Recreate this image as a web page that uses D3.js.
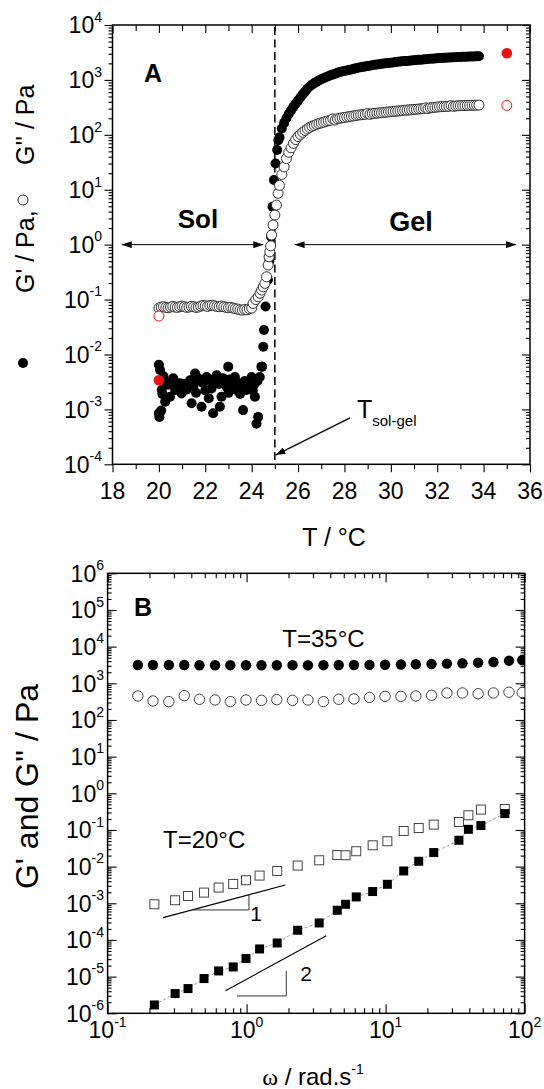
<!DOCTYPE html>
<html>
<head>
<meta charset="utf-8">
<script src="https://cdn.jsdelivr.net/npm/d3@7/dist/d3.min.js"></script>
<style>
html,body{margin:0;padding:0;background:#fff;}
svg text{font-family:"Liberation Sans",Arial,Helvetica,sans-serif;fill:#000;}
</style>
</head>
<body>
<svg id="chart" width="544" height="1089"></svg>
<script>
// ================= Panel A data (T / °C, modulus / Pa) =================
const tempSolStorage = [20.0,20.05,20.12,20.0,20.02,20.1,20.15,20.2,20.27,20.34,20.4,20.48,20.55,20.62,20.7,20.8,20.91,20.98,21.1,21.2,21.34,21.41,21.5,21.56,21.6,21.7,21.8,21.84,21.91,22.0,22.06,22.15,22.2,22.27,22.34,22.4,22.49,22.56,22.6,22.63,22.7,22.77,22.85,22.92,22.99,23.0,23.05,23.13,23.2,23.28,23.35,23.42,23.5,23.57,23.63,23.7,23.78,23.85,24.0,24.05,24.1,24.14,24.21,24.25,24.28,24.35,24.42,
  24.45,24.5,24.53,24.6,24.7,24.76,24.84,24.9,24.96,25.03,25.1,25.15];
const gStorageSol = [6.5e-3,5.2e-3,2.25e-3,8.5e-4,7.3e-4,9.5e-4,1.9e-3,4.0e-3,1.38e-3,3.0e-3,2.8e-3,1.7e-3,3.2e-3,3.7e-3,2.25e-3,2.6e-3,3.0e-3,1.95e-3,2.9e-3,2.3e-3,3.4e-3,1.29e-3,2.7e-3,4.5e-3,2.0e-3,3.7e-3,3.3e-3,1.12e-3,3.0e-3,2.2e-3,3.9e-3,1.6e-3,3.4e-3,2.4e-3,8.5e-4,3.6e-3,4.2e-3,3.0e-3,2.9e-3,1.12e-3,1.7e-3,3.7e-3,3.1e-3,2.6e-3,6.0e-3,2.0e-3,3.5e-3,3.2e-3,2.4e-3,3.9e-3,2.25e-3,3.0e-3,1.9e-3,2.6e-3,9.7e-4,3.3e-3,2.25e-3,2.9e-3,3.9e-3,2.2e-3,2.8e-3,1.7e-3,5.5e-4,3.3e-3,7.3e-4,3.9e-3,6.0e-3,
  6.0e-3,0.0138,0.028,0.075,0.23,0.5,1.4,4.9,15,30,53,80];

const tempSolLoss = [20.0,20.1,20.2,20.3,20.4,20.5,20.6,20.7,20.8,20.9,21.0,21.1,21.2,21.3,21.4,21.5,21.6,21.7,21.8,21.9,22.0,22.1,22.2,22.3,22.4,22.5,22.6,22.7,22.8,22.9,23.0,23.1,23.2,23.3,23.4,23.5,23.6,23.7,23.8,23.9,24.0,
  24.06,24.18,24.28,24.36,24.43,24.5,24.57,24.64,24.71,24.75,24.78,24.82,24.86,24.92,25.0,25.07,25.14];
const gLossSol = [0.070,0.073,0.074,0.072,0.071,0.073,0.075,0.073,0.072,0.074,0.076,0.074,0.072,0.073,0.075,0.074,0.072,0.073,0.076,0.078,0.077,0.075,0.078,0.079,0.077,0.075,0.074,0.076,0.074,0.072,0.071,0.072,0.070,0.068,0.067,0.065,0.064,0.066,0.065,0.068,0.070,
  0.085,0.100,0.112,0.130,0.149,0.170,0.197,0.26,0.425,0.60,0.74,0.95,1.5,2.28,3.46,5.26,8.6];

const tempGel = [25.2,25.3,25.4,25.5,25.6,25.7,25.8,25.9,26.0,26.1,26.2,26.3,26.4,26.5,26.6,26.7,26.8,26.9,27.0,27.1,27.2,27.3,27.4,27.5,27.6,27.7,27.8,27.9,28.0,28.1,28.2,28.3,28.4,28.5,28.6,28.7,28.8,28.9,29.0,29.1,29.2,29.3,29.4,29.5,29.6,29.7,29.8,29.9,30.0,30.1,30.2,30.3,30.4,30.5,30.6,30.7,30.8,30.9,31.0,31.1,31.2,31.3,31.4,31.5,31.6,31.7,31.8,31.9,32.0,32.1,32.2,32.3,32.4,32.5,32.6,32.7,32.8,32.9,33.0,33.1,33.2,33.3,33.4,33.5,33.6,33.7,33.8];
const gStorageGel = [90,130,165,200,240,280,325,370,420,480,545,610,690,760,820,875,925,980,1030,1075,1120,1165,1210,1260,1300,1350,1400,1430,1460,1490,1520,1555,1590,1625,1660,1695,1730,1760,1790,1820,1850,1880,1910,1935,1960,1985,2010,2035,2060,2085,2110,2135,2160,2180,2200,2220,2240,2260,2280,2300,2320,2340,2360,2380,2400,2420,2440,2460,2480,2500,2510,2520,2540,2550,2570,2580,2600,2610,2620,2630,2640,2650,2660,2670,2680,2690,2700];
const gLossGel = [12,19,26,37,48,58,70,82,93,102,111,120,128,136,143,149,155,160,165,170,175,180,184,195,186,196,200,204,207,211,214,218,221,225,229,231,234,236,245,236,243,246,248,251,253,256,258,261,264,266,269,271,274,277,280,282,285,287,290,292,295,298,301,310,300,311,314,317,321,324,326,327,329,331,340,330,336,338,339,340,341,343,344,345,346,347,348];

const tempRed = [20, 35];
const gStorageRed = [3.4e-3, 3060];
const gLossRed = [0.050, 344];

const xTicksA = [18,20,22,24,26,28,30,32,34,36];
const xMinorA = [19,21,23,25,27,29,31,33,35];
const yTicksA = [1e-4,1e-3,1e-2,1e-1,1,10,100,1000,10000];
const yExpA = ["-4","-3","-2","-1","0","1","2","3","4"];

const tSolGel = 25;
const solArrowT = [18.4, 24.5];
const gelArrowT = [25.85, 35.4];
const arrowLevel = 1;
const tsgArrow = [[28.24, 7.0e-4], [25.03, 1.47e-4]];

// ================= Panel B data (omega / rad s-1, modulus / Pa) =================
const omegaHot = [0.165,0.212,0.276,0.356,0.458,0.593,0.764,0.99,1.28,1.65,2.14,2.76,3.57,4.60,5.92,7.66,9.91,12.9,16.5,21.4,27.6,35.7,46.3,59.7,77.2,96.1];
const gStorageHot = [3150,3150,3160,3160,3100,3100,3120,3100,3100,3100,3120,3100,3120,3150,3150,3180,3200,3250,3300,3370,3450,3510,3650,3810,4140,4300];
const gLossHot = [451,330,316,460,366,351,316,351,343,358,343,351,316,366,374,412,440,440,451,472,545,545,520,545,571,560];

const omegaCold = [0.217,0.306,0.379,0.494,0.629,0.801,0.99,1.24,1.66,2.33,3.33,4.49,5.15,6.15,8.07,10.3,13.5,17.3,22.2,33.7,39.4,48.5,72.1];
const gLossCold = [9.4e-4,1.21e-3,1.58e-3,1.96e-3,2.69e-3,3.37e-3,4.25e-3,5.70e-3,7.62e-3,1.07e-2,1.49e-2,2.08e-2,2.04e-2,2.63e-2,3.82e-2,4.92e-2,9.38e-2,0.113,0.140,0.165,0.252,0.36,0.373];
const gStorageCold = [1.69e-6,3.45e-6,4.72e-6,8.85e-6,1.43e-5,1.84e-5,3.11e-5,5.69e-5,8.28e-5,1.84e-4,2.91e-4,6.46e-4,9.4e-4,1.49e-3,2.09e-3,3.30e-3,7.62e-3,1.40e-2,2.42e-2,5.24e-2,0.104,0.132,0.28];

const slope1 = [[0.251,4.06e-4],[1.90,3.16e-3]];
const tri1 = [[0.409,6.6e-4],[1.04,6.6e-4],[1.04,1.75e-3]];
const slope2 = [[0.705,4.14e-6],[3.74,1.31e-4]];
const tri2 = [[0.853,2.97e-6],[1.93,2.97e-6],[1.93,1.43e-5]];

const xTicksB = [0.1,1,10,100];
const xExpB = ["-1","0","1","2"];
const yTicksB = [1e-6,1e-5,1e-4,1e-3,1e-2,1e-1,1,10,100,1e3,1e4,1e5,1e6];
const yExpB = ["-6","-5","-4","-3","-2","-1","0","1","2","3","4","5","6"];

// ================= drawing =================
const svg = d3.select("#chart");
const defs = svg.append("defs");
defs.append("marker").attr("id","ah").attr("viewBox","0 0 10 7")
  .attr("refX",10).attr("refY",3.5).attr("markerWidth",10).attr("markerHeight",7)
  .attr("markerUnits","userSpaceOnUse").attr("orient","auto-start-reverse")
  .append("path").attr("d","M0,0L10,3.5L0,7z").attr("fill","#000");

function logMinor(lo, hi){ const out=[]; for(let e=lo;e<hi;e++){ for(let k=2;k<=9;k++) out.push(k*Math.pow(10,e)); } return out; }

function tickSet(axisGen, values, size, tx, ty){
  svg.append("g").attr("transform",`translate(${tx},${ty})`)
    .call(axisGen.tickValues(values).tickSize(size).tickFormat(""))
    .call(g=>g.select(".domain").remove())
    .call(g=>g.selectAll(".tick line").attr("stroke","#000").attr("stroke-width",1.1));
}
function frame(P, id){
  defs.append("clipPath").attr("id",id).append("rect")
    .attr("x",P.l).attr("y",P.t).attr("width",P.r-P.l).attr("height",P.b-P.t);
}

// ---------- Panel A ----------
const A = {l:112.5, r:530, t:25, b:464.3};
const xA = d3.scaleLinear().domain([18,36]).range([A.l,A.r]);
const yA = d3.scaleLog().domain([1e-4,1e4]).range([A.b,A.t]);
frame(A,"clipA");

tickSet(d3.axisBottom(xA), xTicksA, 8, 0, A.b);
tickSet(d3.axisBottom(xA), xMinorA, 5, 0, A.b);
tickSet(d3.axisTop(xA), xTicksA, -8, 0, A.t);
tickSet(d3.axisTop(xA), xMinorA, -6, 0, A.t);
tickSet(d3.axisLeft(yA), yTicksA, 8, A.l, 0);
tickSet(d3.axisLeft(yA), logMinor(-4,4), 4, A.l, 0);
tickSet(d3.axisRight(yA), yTicksA, -8, A.r, 0);
tickSet(d3.axisRight(yA), logMinor(-4,4), -4, A.r, 0);

svg.append("rect").attr("x",A.l).attr("y",A.t).attr("width",A.r-A.l).attr("height",A.b-A.t)
  .attr("fill","none").attr("stroke","#000").attr("stroke-width",1.5);

// tick labels A
svg.append("g").selectAll("text").data(xTicksA).join("text")
  .attr("x",d=>xA(d)).attr("y",499).attr("text-anchor","middle").attr("font-size",23).text(d=>d);
const ylabA = svg.append("g").selectAll("text").data(yTicksA).join("text")
  .attr("x",102).attr("y",d=>yA(d)+8.3).attr("text-anchor","end").attr("font-size",23);
ylabA.append("tspan").text("10");
ylabA.append("tspan").attr("dy",-11.5).attr("font-size",14).text((d,i)=>yExpA[i]);

// dashed transition line
svg.append("line").attr("x1",xA(tSolGel)).attr("x2",xA(tSolGel)).attr("y1",A.t+2).attr("y2",A.b)
  .attr("stroke","#000").attr("stroke-width",1.5).attr("stroke-dasharray","8,4.5");

const pA = svg.append("g").attr("clip-path","url(#clipA)");
const R = 5;
pA.selectAll(".fs").data(d3.zip(tempSolStorage,gStorageSol)).join("circle")
  .attr("cx",d=>xA(d[0])).attr("cy",d=>yA(d[1])).attr("r",R).attr("fill","#000");
pA.selectAll(".fg").data(d3.zip(tempGel,gStorageGel)).join("circle")
  .attr("cx",d=>xA(d[0])).attr("cy",d=>yA(d[1])).attr("r",R).attr("fill","#000");
pA.selectAll(".os").data(d3.zip(tempSolLoss,gLossSol)).join("circle")
  .attr("cx",d=>xA(d[0])).attr("cy",d=>yA(d[1])).attr("r",R).attr("fill","#fff").attr("stroke","#333").attr("stroke-width",1);
pA.selectAll(".og").data(d3.zip(tempGel,gLossGel)).join("circle")
  .attr("cx",d=>xA(d[0])).attr("cy",d=>yA(d[1])).attr("r",R).attr("fill","#fff").attr("stroke","#333").attr("stroke-width",1);
pA.selectAll(".rs").data(d3.zip(tempRed,gStorageRed)).join("circle")
  .attr("cx",d=>xA(d[0])).attr("cy",d=>yA(d[1])).attr("r",R+0.3).attr("fill","#ee1111");
pA.selectAll(".rl").data(d3.zip(tempRed,gLossRed)).join("circle")
  .attr("cx",d=>xA(d[0])).attr("cy",d=>yA(d[1])).attr("r",R).attr("fill","#fff").attr("stroke","#ee1111").attr("stroke-width",1);

// arrows
svg.append("line").attr("x1",xA(solArrowT[0])).attr("x2",xA(solArrowT[1])).attr("y1",yA(arrowLevel)).attr("y2",yA(arrowLevel))
  .attr("stroke","#000").attr("stroke-width",1).attr("marker-start","url(#ah)").attr("marker-end","url(#ah)");
svg.append("line").attr("x1",xA(gelArrowT[0])).attr("x2",xA(gelArrowT[1])).attr("y1",yA(arrowLevel)).attr("y2",yA(arrowLevel))
  .attr("stroke","#000").attr("stroke-width",1).attr("marker-start","url(#ah)").attr("marker-end","url(#ah)");
svg.append("line").attr("x1",xA(tsgArrow[0][0])).attr("y1",yA(tsgArrow[0][1]))
  .attr("x2",xA(tsgArrow[1][0])).attr("y2",yA(tsgArrow[1][1]))
  .attr("stroke","#000").attr("stroke-width",1.2).attr("marker-end","url(#ah)");

// texts A
svg.append("text").attr("x",144).attr("y",82).attr("font-size",25).attr("font-weight","bold").text("A");
svg.append("text").attr("x",198).attr("y",228).attr("text-anchor","middle").attr("font-size",26).attr("font-weight","bold").text("Sol");
svg.append("text").attr("x",411).attr("y",231).attr("text-anchor","middle").attr("font-size",27).attr("font-weight","bold").text("Gel");
const tsg = svg.append("text").attr("x",357).attr("y",418).attr("font-size",25);
tsg.append("tspan").text("T");
tsg.append("tspan").attr("dy",8).attr("font-size",15).text("sol-gel");
svg.append("text").attr("x",334).attr("y",546).attr("text-anchor","middle").attr("font-size",25).text("T / °C");

// y label A with symbols
svg.append("text").attr("transform","translate(34,293) rotate(-90)").attr("font-size",25).text("G' / Pa,");
svg.append("text").attr("transform","translate(34,165) rotate(-90)").attr("font-size",25).text("G'' / Pa");
svg.append("circle").attr("cx",23).attr("cy",200).attr("r",5).attr("fill","#fff").attr("stroke","#333").attr("stroke-width",1);
svg.append("circle").attr("cx",23).attr("cy",363).attr("r",5).attr("fill","#000");

// ---------- Panel B ----------
const B = {l:107.6, r:524.6, t:573.3, b:1013.3};
const xB = d3.scaleLog().domain([0.1,100]).range([B.l,B.r]);
const yB = d3.scaleLog().domain([1e-6,1e6]).range([B.b,B.t]);
frame(B,"clipB");

tickSet(d3.axisBottom(xB), xTicksB, -9, 0, B.b);
tickSet(d3.axisBottom(xB), logMinor(-1,2), -5, 0, B.b);
tickSet(d3.axisTop(xB), xTicksB, -9, 0, B.t);
tickSet(d3.axisTop(xB), logMinor(-1,2), -5, 0, B.t);
tickSet(d3.axisLeft(yB), yTicksB, -9, B.l, 0);
tickSet(d3.axisLeft(yB), logMinor(-6,6), -4, B.l, 0);
tickSet(d3.axisRight(yB), yTicksB, -9, B.r, 0);
tickSet(d3.axisRight(yB), logMinor(-6,6), -4, B.r, 0);

svg.append("rect").attr("x",B.l).attr("y",B.t).attr("width",B.r-B.l).attr("height",B.b-B.t)
  .attr("fill","none").attr("stroke","#000").attr("stroke-width",1.5);

const xlabB = svg.append("g").selectAll("text").data(xTicksB).join("text")
  .attr("x",d=>xB(d)).attr("y",1038).attr("text-anchor","middle").attr("font-size",23);
xlabB.append("tspan").text("10");
xlabB.append("tspan").attr("dy",-11.5).attr("font-size",14).text((d,i)=>xExpB[i]);
const ylabB = svg.append("g").selectAll("text").data(yTicksB).join("text")
  .attr("x",104).attr("y",d=>yB(d)+8.3).attr("text-anchor","end").attr("font-size",23);
ylabB.append("tspan").text("10");
ylabB.append("tspan").attr("dy",-11.5).attr("font-size",14).text((d,i)=>yExpB[i]);

const pB = svg.append("g").attr("clip-path","url(#clipB)");
pB.selectAll(".hs").data(d3.zip(omegaHot,gStorageHot)).join("circle")
  .attr("cx",d=>xB(d[0])).attr("cy",d=>yB(d[1])).attr("r",5.2).attr("fill","#000");
pB.selectAll(".hl").data(d3.zip(omegaHot,gLossHot)).join("circle")
  .attr("cx",d=>xB(d[0])).attr("cy",d=>yB(d[1])).attr("r",5.2).attr("fill","#fff").attr("stroke","#444").attr("stroke-width",1);

const lineB = d3.line().x(d=>xB(d[0])).y(d=>yB(d[1]));
pB.append("path").attr("d",lineB(d3.zip(omegaCold,gStorageCold))).attr("fill","none")
  .attr("stroke","#888").attr("stroke-width",0.8).attr("stroke-dasharray","3,2");
const S = 9;
pB.selectAll(".cl").data(d3.zip(omegaCold,gLossCold)).join("rect")
  .attr("x",d=>xB(d[0])-S/2).attr("y",d=>yB(d[1])-S/2).attr("width",S).attr("height",S)
  .attr("fill","#fff").attr("stroke","#444").attr("stroke-width",1);
pB.selectAll(".cs").data(d3.zip(omegaCold,gStorageCold)).join("rect")
  .attr("x",d=>xB(d[0])-S/2).attr("y",d=>yB(d[1])-S/2).attr("width",S).attr("height",S)
  .attr("fill","#000");

[slope1, slope2].forEach(s=>{
  pB.append("path").attr("d",lineB(s)).attr("fill","none").attr("stroke","#000").attr("stroke-width",1.1);
});
[tri1, tri2].forEach(s=>{
  pB.append("path").attr("d",lineB(s)).attr("fill","none").attr("stroke","#333").attr("stroke-width",1);
});

svg.append("text").attr("x",134).attr("y",616).attr("font-size",25).attr("font-weight","bold").text("B");
svg.append("text").attr("x",323.5).attr("y",647).attr("text-anchor","middle").attr("font-size",24).text("T=35°C");
svg.append("text").attr("x",163).attr("y",848).attr("font-size",24).text("T=20°C");
svg.append("text").attr("x",256).attr("y",920.5).attr("text-anchor","middle").attr("font-size",21).text("1");
svg.append("text").attr("x",306).attr("y",981).attr("text-anchor","middle").attr("font-size",21).text("2");

const xt = svg.append("text").attr("x",313).attr("y",1085).attr("text-anchor","middle").attr("font-size",24);
xt.append("tspan").attr("font-family","'Liberation Serif','DejaVu Serif',serif").text("ω");
xt.append("tspan").text(" / rad.s");
xt.append("tspan").attr("dy",-11).attr("font-size",14).text("-1");

svg.append("text").attr("transform","translate(38,786.5) rotate(-90)").attr("text-anchor","middle")
  .attr("font-size",32).text("G' and G'' / Pa");
</script>
</body>
</html>
